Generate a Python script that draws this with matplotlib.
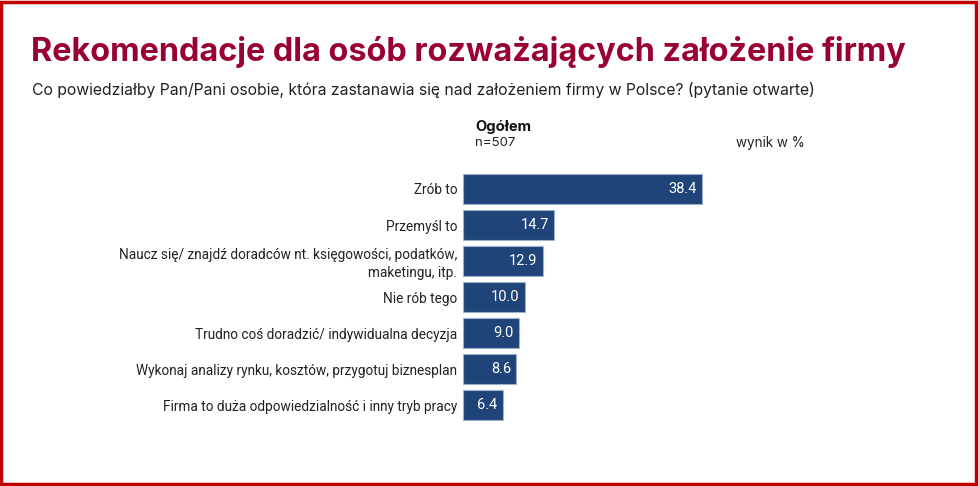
import matplotlib.pyplot as plt
from matplotlib.patches import Rectangle

# dane z wykresu (wynik w %)
categories = [
    "Zrób to",
    "Przemyśl to",
    "Naucz się/ znajdź doradców nt. księgowości, podatków,\nmaketingu, itp.",
    "Nie rób tego",
    "Trudno coś doradzić/ indywidualna decyzja",
    "Wykonaj analizy rynku, kosztów, przygotuj biznesplan",
    "Firma to duża odpowiedzialność i inny tryb pracy",
]
values = [38.4, 14.7, 12.9, 10.0, 9.0, 8.6, 6.4]
value_labels = ["38.4", "14.7", "12.9", "10.0", "9.0", "8.6", "6.4"]

W, H = 979, 486
fig = plt.figure(figsize=(W / 100, H / 100), dpi=100)
fig.patch.set_facecolor("white")

# ramka dookoła slajdu
fig.add_artist(Rectangle((1.5 / W, 2.5 / H), (W - 4.5) / W, (H - 5) / H,
                         transform=fig.transFigure, fill=False,
                         edgecolor="#C00000", linewidth=2.5))

# tytuł i podtytuł
fig.text(31 / W, 1 - 52 / H, "Rekomendacje dla osób rozważających założenie firmy",
         fontsize=23.3, fontweight="bold", family="Inter", color="#990033",
         va="center", ha="left")
fig.text(32 / W, 1 - 90 / H,
         "Co powiedziałby Pan/Pani osobie, która zastanawia się nad założeniem firmy w Polsce? (pytanie otwarte)",
         fontsize=11.35, family="Inter", color="#222222", va="center", ha="left")

fig.text(475 / W, 1 - 127 / H, "Ogółem", fontsize=10.6, fontweight="bold",
         family="Inter", color="#111111", va="center", ha="left")
fig.text(475 / W, 1 - 143 / H, "n=507", fontsize=9.5, family="Inter",
         color="#222222", va="center", ha="left")
fig.text(736 / W, 1 - 143 / H, "wynik w %", fontsize=9.7, family="Inter",
         color="#222222", va="center", ha="left")

# wykres słupkowy
ax_left, ax_w = 463, 300
ax_top, ax_bot = 171, 423
ax = fig.add_axes([ax_left / W, 1 - ax_bot / H, ax_w / W, (ax_bot - ax_top) / H])
ypos = list(range(len(categories)))
ax.barh(ypos, values, height=0.83, color="#1F4478", edgecolor="#9DB0CC",
        linewidth=0.8)
ax.set_xlim(0, ax_w / 6.22)
ax.set_ylim(len(categories) - 0.5, -0.5)

for y, v, lab in zip(ypos, values, value_labels):
    ax.annotate(lab, (v, y), xytext=(-4, 0), textcoords="offset points",
                ha="right", va="center", color="white", fontsize=10.5,
                family="Roboto")

ax.set_yticks(ypos)
ax.set_yticklabels(categories, fontsize=9.8, family="Roboto", color="#222222",
                   linespacing=1.3, ha="right")
ax.tick_params(axis="y", length=0, pad=4)
ax.set_xticks([])
for s in ax.spines.values():
    s.set_visible(False)
ax.patch.set_alpha(0)

plt.savefig("out.png", dpi=100)
